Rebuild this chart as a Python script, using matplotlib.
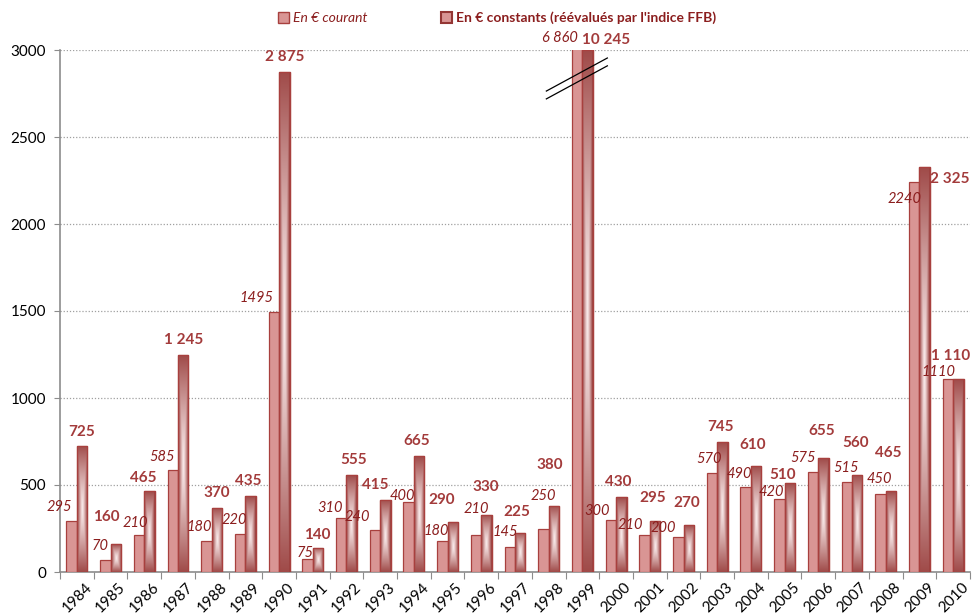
import numpy as np
import matplotlib
matplotlib.use("Agg")
import matplotlib.pyplot as plt
from matplotlib.patches import Patch
from matplotlib.colors import to_rgb
import matplotlib.transforms as mtransforms

plt.rcParams['font.family'] = ['Lato', 'DejaVu Sans']

years = [str(y) for y in range(1984, 2011)]
courant = [295, 70, 210, 585, 180, 220, 1495, 75, 310, 240, 400, 180, 210, 145,
           250, 6860, 300, 210, 200, 570, 490, 420, 575, 515, 450, 2240, 1110]
constants = [725, 160, 465, 1245, 370, 435, 2875, 140, 555, 415, 665, 290, 330, 225,
             380, 10245, 430, 295, 270, 745, 610, 510, 655, 560, 465, 2325, 1110]
courant_labels = ["295", "70", "210", "585", "180", "220", "1495", "75", "310", "240",
                  "400", "180", "210", "145", "250", "6 860", "300", "210", "200", "570",
                  "490", "420", "575", "515", "450", "2240", "1110"]
constants_labels = ["725", "160", "465", "1 245", "370", "435", "2 875", "140", "555",
                    "415", "665", "290", "330", "225", "380", "10 245", "430", "295",
                    "270", "745", "610", "510", "655", "560", "465", "2 325", "1 110"]
yticks = [0, 500, 1000, 1500, 2000, 2500, 3000]
legend_labels = ["En € courant", "En € constants (réévalués par l'indice FFB)"]

# label nudges (pixels, from the top-centre of each bar)
courant_nudge = [(-12, 14), (-5, 14), (-4, 12), (-11, 13), (-7, 14), (-6, 14), (-17, 14),
                 (-2, 6), (-11, 10), (-18, 13), (-6, 6), (-6, 10), (0, 26), (-5, 15),
                 (0, 33), (-17, 12), (-14, 9), (-14, 10), (-15, 9), (-3, 14), (-6, 13),
                 (-8, 7), (-10, 14), (-1, 14), (-1, 15), (-10, -17), (-9, 7)]
constants_nudge = [(0, 14), (-9, 27), (-6, 13), (0, 15), (0, 15), (-2, 15), (0, 15),
                   (-1, 13), (2, 15), (-10, 15), (-2, 15), (-11, 22), (-1, 28), (-3, 21),
                   (-4, 41), (18, 10), (-3, 15), (-2, 23), (-2, 22), (-2, 15), (-3, 21),
                   (-7, 8), (-2, 27), (-2, 32), (-3, 38), (25, -12), (-8, 23)]

YMAX = 3000
dark = np.array(to_rgb("#943634"))
light = np.array(to_rgb("#FBEDED"))
courant_fill = "#D99594"
edge = "#A8403E"
text_dark = "#8B1E1E"
text_bold = "#A33B3B"

fig = plt.figure(figsize=(9.73, 6.15), dpi=100)
ax = fig.add_axes([60/973, 1 - 572/615, 910/973, 522/615])

n = len(years)
x = np.arange(n)
w = 0.31

b1 = ax.bar(x - w/2, courant, w, color=courant_fill, edgecolor=edge, linewidth=0.9, zorder=3)
b2 = ax.bar(x + w/2, constants, w, color=dark, edgecolor=edge, linewidth=0.9, zorder=3)

# gradient fill for constant bars
for rect in b2:
    x0 = rect.get_x(); x1 = x0 + rect.get_width()
    h = min(rect.get_height(), YMAX)
    ny, nx = 100, 40
    u = np.linspace(-1, 1, nx)[None, :]
    v = np.linspace(-1, 1, ny)[:, None]
    t = np.maximum(np.abs(u), np.abs(v) * 0.9)
    t = t ** 1.2
    img = light[None, None, :] * (1 - t[..., None]) + dark[None, None, :] * t[..., None]
    im = ax.imshow(img, extent=[x0, x1, 0, h], aspect='auto', zorder=3.5,
                   interpolation='bilinear', origin='lower')
    im.set_clip_path(rect)
    ax.add_patch(plt.Rectangle((x0, 0), x1 - x0, h, fill=False, edgecolor=edge,
                               linewidth=0.9, zorder=4))

ax.set_xlim(-0.5, n - 0.5)
ax.set_ylim(0, YMAX)

# data labels
for i in range(n):
    c = min(courant[i], YMAX); k = min(constants[i], YMAX)
    ax.annotate(courant_labels[i], (i - w/2, c), xytext=courant_nudge[i],
                textcoords='offset pixels', ha='center', va='center', style='italic',
                color=text_dark, fontsize=10.5, annotation_clip=False, zorder=7)
    ax.annotate(constants_labels[i], (i + w/2, k), xytext=constants_nudge[i],
                textcoords='offset pixels', ha='center', va='center', fontweight='bold',
                color=text_bold, fontsize=11, annotation_clip=False, zorder=7)

# axis break marks on 1999
i99 = years.index("1999")
for dy in (0, -45):
    ax.plot([i99 - 1.07, i99 + 0.74], [2764 + dy, 2954 + dy], color='black', lw=0.9,
            zorder=6, clip_on=False)

# grid & axes
ax.set_yticks(yticks)
ax.yaxis.grid(True, linestyle=(0, (1, 1.5)), color='#A0A0A0', linewidth=0.9, zorder=0)
ax.set_axisbelow(True)
for s in ['top', 'right']:
    ax.spines[s].set_visible(False)
for s in ['left', 'bottom']:
    ax.spines[s].set_color('#8C8C8C')
    ax.spines[s].set_linewidth(1.2)
ax.tick_params(axis='y', length=4, color='#8C8C8C', labelsize=11, pad=6)

ax.set_xticks(np.arange(-0.5, n, 1.0))
ax.set_xticklabels([])
ax.tick_params(axis='x', which='major', length=5, color='#8C8C8C')
ax.set_xticks(x, minor=True)
ax.set_xticklabels(years, minor=True, rotation=45, ha='right', rotation_mode='anchor',
                   fontsize=11)
ax.tick_params(axis='x', which='minor', length=0, pad=6)
for lab in ax.get_xticklabels(minor=True):
    lab.set_transform(lab.get_transform() + mtransforms.ScaledTranslation(8/100, 0, fig.dpi_scale_trans))

# legend
handles = [Patch(facecolor=courant_fill, edgecolor=edge),
           Patch(facecolor="#D99594", edgecolor="#943634", linewidth=1.5)]
leg = fig.legend(handles, legend_labels, loc='center', bbox_to_anchor=(497/973, 1 - 18/615),
                 ncol=2, frameon=False, fontsize=10, handlelength=0.8, handleheight=0.8,
                 handletextpad=0.3, columnspacing=5.3)
t0, t1 = leg.get_texts()
t0.set_style('italic'); t0.set_color(text_dark)
t1.set_fontweight('bold'); t1.set_color(text_dark)

fig.savefig("out.png", dpi=100)
